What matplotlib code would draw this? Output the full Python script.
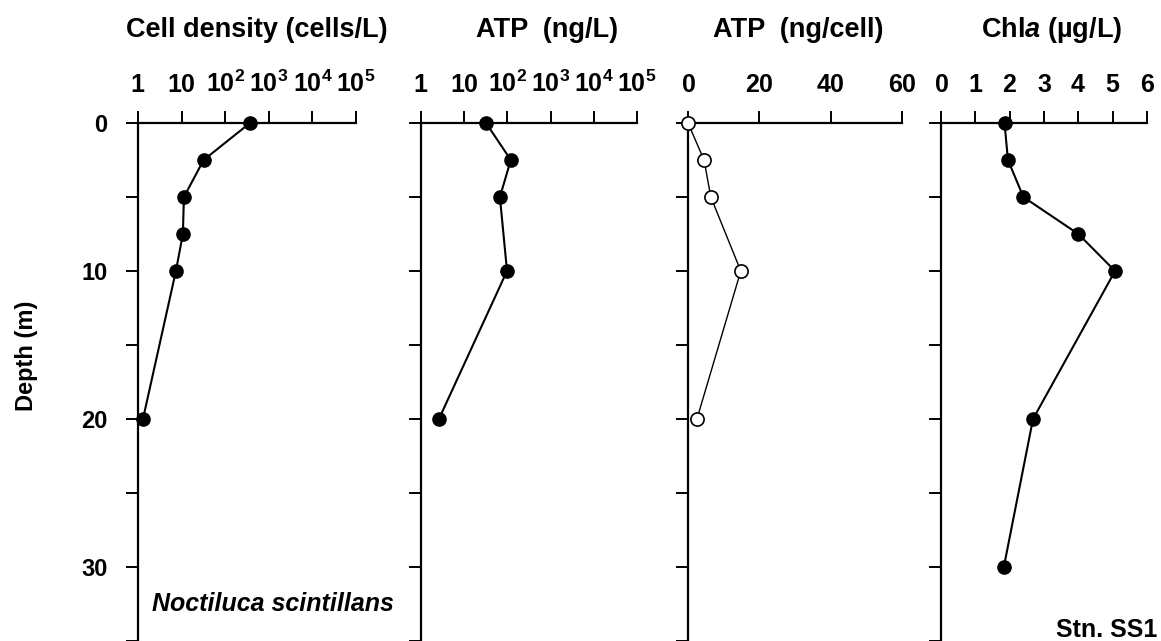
import matplotlib
matplotlib.use("Agg")
import matplotlib.pyplot as plt
from matplotlib.ticker import NullLocator

plt.rcParams['font.family'] = ['Liberation Sans', 'DejaVu Sans']
plt.rcParams['mathtext.fontset'] = 'custom'
plt.rcParams['mathtext.rm'] = 'Liberation Sans:bold'
plt.rcParams['mathtext.bf'] = 'Liberation Sans:bold'
plt.rcParams['mathtext.it'] = 'Liberation Sans:italic:bold'

# ---- data ----
depth_cells = [0, 2.5, 5, 7.5, 10, 20]
cell_density = [370, 32, 11.3, 10.7, 7.4, 1.3]

depth_atp = [0, 2.5, 5, 10, 20]
atp_ngL = [32, 120, 67, 98, 2.6]

depth_atpcell = [0, 2.5, 5, 10, 20]
atp_ngcell = [0, 4.5, 6.4, 14.8, 2.5]

depth_chla = [0, 2.5, 5, 7.5, 10, 20, 30]
chla = [1.85, 1.95, 2.4, 4.0, 5.07, 2.68, 1.83]

log_ticks = [1, 10, 100, 1000, 10000, 100000]
log_ticklabels = [r'$\mathbf{1}$', r'$\mathbf{10}$', r'$\mathbf{10^{2}}$',
                  r'$\mathbf{10^{3}}$', r'$\mathbf{10^{4}}$', r'$\mathbf{10^{5}}$']
atpcell_ticks = [0, 20, 40, 60]
chla_ticks = [0, 1, 2, 3, 4, 5, 6]
depth_ticks = [0, 5, 10, 15, 20, 25, 30, 35]
depth_labels = ['0', '', '10', '', '20', '', '30', '']

titles = ['Cell density (cells/L)', 'ATP  (ng/L)', 'ATP  (ng/cell)', r'Chl$\it{a}$ (µg/L)']

fig = plt.figure(figsize=(11.61, 6.41), dpi=100)

W, H = 1161, 641
top_px = 123
panels_px = [(138, 356), (421, 637), (688, 902), (941, 1147)]
axes = []
for (x0, x1) in panels_px:
    ax = fig.add_axes([x0 / W, 0, (x1 - x0) / W, 1 - top_px / H])
    axes.append(ax)

FS_TICK_X = 18
FS_TICK_Y = 17
FS_TEXT = 18
FS_TITLE = 19.5

for i, ax in enumerate(axes):
    ax.set_ylim(35, 0)
    ax.xaxis.tick_top()
    ax.spines['right'].set_visible(False)
    ax.spines['bottom'].set_visible(False)
    ax.spines['top'].set_linewidth(1.6)
    ax.spines['left'].set_linewidth(1.6)
    ax.set_yticks(depth_ticks)
    if i == 0:
        ax.set_yticklabels(depth_labels, fontsize=FS_TICK_Y, fontweight='bold')
    else:
        ax.set_yticklabels([])
    ax.tick_params(axis='y', direction='out', length=9, width=1.4, pad=13)
    ax.tick_params(axis='x', direction='out', length=9, width=1.4, pad=10)
    ax.set_facecolor('none')

# Panel 1
ax = axes[0]
ax.set_xscale('log')
ax.set_xlim(1, 1e5)
ax.set_xticks(log_ticks)
ax.set_xticklabels(log_ticklabels, fontsize=FS_TICK_X)
ax.xaxis.set_minor_locator(NullLocator())
ax.plot(cell_density, depth_cells, color='black', lw=1.5, marker='o', ms=9.5,
        mfc='black', mec='black', clip_on=False, zorder=5)
ax.set_ylabel('Depth (m)', fontsize=17, fontweight='bold')
ax.yaxis.set_label_coords((38 - 138) / 218, 0.55)
ax.text(0.064, 0.058, 'Noctiluca scintillans', transform=ax.transAxes,
        fontsize=FS_TEXT, fontweight='bold', style='italic', ha='left', va='baseline')

# Panel 2
ax = axes[1]
ax.set_xscale('log')
ax.set_xlim(1, 1e5)
ax.set_xticks(log_ticks)
ax.set_xticklabels(log_ticklabels, fontsize=FS_TICK_X)
ax.xaxis.set_minor_locator(NullLocator())
ax.plot(atp_ngL, depth_atp, color='black', lw=1.5, marker='o', ms=9.5,
        mfc='black', mec='black', clip_on=False, zorder=5)

# Panel 3
ax = axes[2]
ax.set_xlim(0, 60)
ax.set_xticks(atpcell_ticks)
ax.set_xticklabels([r'$\mathbf{%d}$' % t for t in atpcell_ticks], fontsize=FS_TICK_X)
ax.plot(atp_ngcell, depth_atpcell, color='black', lw=1.0, marker='o', ms=9.5,
        mfc='white', mec='black', mew=1.2, clip_on=False, zorder=5)

# Panel 4
ax = axes[3]
ax.set_xlim(0, 6)
ax.set_xticks(chla_ticks)
ax.set_xticklabels([r'$\mathbf{%d}$' % t for t in chla_ticks], fontsize=FS_TICK_X)
ax.plot(chla, depth_chla, color='black', lw=1.5, marker='o', ms=9.5,
        mfc='black', mec='black', clip_on=False, zorder=5)
ax.text(1.049, 0.008, 'Stn. SS1', transform=ax.transAxes,
        fontsize=FS_TEXT, fontweight='bold', ha='right', va='baseline')

# Titles
title_centers = [257, 547, 798, 1052]
for t, xc in zip(titles, title_centers):
    fig.text(xc / W, 1 - 37 / H, t, fontsize=FS_TITLE, fontweight='bold',
             ha='center', va='baseline')

fig.savefig('out.png', dpi=100)
